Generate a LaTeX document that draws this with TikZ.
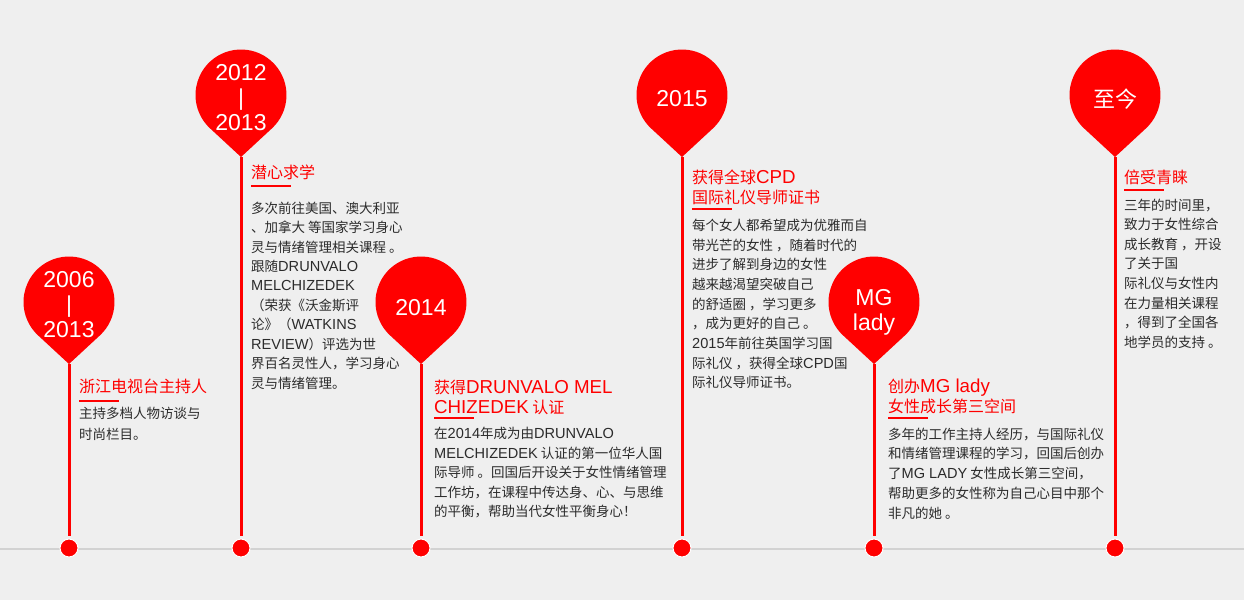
\documentclass[tikz,border=0pt]{standalone}
\usepackage{fontspec}
\setmainfont{Noto Sans CJK SC}
\newfontfamily\numfont{Liberation Sans}
\newfontfamily\latfont[Scale=1.08]{Liberation Sans}
\newfontfamily\latbig[Scale=1.17]{Liberation Sans}
\definecolor{bg}{HTML}{EFEFEF}
\definecolor{ballred}{HTML}{FF0000}
\definecolor{txtgray}{HTML}{2B2B2B}
\definecolor{axisgray}{HTML}{D2D2D2}

\begin{document}
\begin{tikzpicture}[x=1pt,y=-1pt,
    yearlbl/.style={text=white,align=center,inner sep=0pt,
        font=\numfont\fontsize{23}{25}\selectfont},
    ttl/.style={text=ballred,anchor=west,align=left,inner sep=0pt,
        font=\fontsize{16}{20}\selectfont},
    bodytxt/.style={text=txtgray,anchor=west,align=left,inner sep=0pt,
        font=\fontsize{13.5}{19.7}\selectfont},
    uline/.style={draw=ballred,line width=2pt},
    stem/.style={draw=ballred,line width=3pt,shorten >=3pt},
    dotnode/.style={circle,fill=ballred,draw=white,line width=1pt,
        minimum size=18pt,inner sep=0pt},
    balloon/.style={fill=ballred},
    axis/.style={draw=axisgray,line width=2pt}]
    \fill[bg] (0,0) rectangle (1244,600);
    \useasboundingbox (0,0) rectangle (1244,600);
    % ---------- axis ----------
    \draw[axis] (0,549) -- (1244,549);
    % ---------- 2006-2013 ----------
    \coordinate (t1) at (69,364);
    \fill[balloon] (t1) -- ([shift={(47.2:45.5)}]69,302)
        arc[start angle=47.2,end angle=-227.2,radius=45.5] -- cycle;
    \node[yearlbl] (y1) at (69,305) {2006\\|\\2013};
    \node[dotnode] (d1) at (69,548) {};
    \draw[stem] (t1) -- (d1);
    \node[ttl] (ti1) at (79,386) {浙江电视台主持人};
    \draw[uline] (79,401) -- (119,401);
    \node[bodytxt,font=\fontsize{13.5}{21}\selectfont] (tx1) at (79,423.5)
        {主持多档人物访谈与\\时尚栏目。};
    % ---------- 2012-2013 ----------
    \coordinate (t2) at (241,157);
    \fill[balloon] (t2) -- ([shift={(47.2:45.5)}]241,95)
        arc[start angle=47.2,end angle=-227.2,radius=45.5] -- cycle;
    \node[yearlbl] (y2) at (241,98) {2012\\|\\2013};
    \node[dotnode] (d2) at (241,548) {};
    \draw[stem] (t2) -- (d2);
    \node[ttl] (ti2) at (251,172) {潜心求学};
    \draw[uline] (251,186) -- (291,186);
    \node[bodytxt,font=\fontsize{13.5}{19.45}\selectfont] (tx2) at (251,295.5)
        {多次前往美国、澳大利亚\\、加拿大 等国家学习身心\\灵与情绪管理相关课程 。\\
         跟随{\latfont DRUNVALO}\\{\latfont MELCHIZEDEK}\\（荣获《沃金斯评\\论》（{\latfont WATKINS}\\
         {\latfont REVIEW}）评选为世\\界百名灵性人，学习身心\\灵与情绪管理。};
    % ---------- 2014 ----------
    \coordinate (t3) at (421,364);
    \fill[balloon] (t3) -- ([shift={(47.2:45.5)}]421,302)
        arc[start angle=47.2,end angle=-227.2,radius=45.5] -- cycle;
    \node[yearlbl] (y3) at (421,308) {2014};
    \node[dotnode] (d3) at (421,548) {};
    \draw[stem] (t3) -- (d3);
    \node[ttl] (ti3) at (434,397) {获得{\latbig DRUNVALO MEL}\\{\latbig CHIZEDEK} 认证};
    \draw[uline] (434,418) -- (474,418);
    \node[bodytxt,font=\fontsize{13.5}{19.5}\selectfont] (tx3) at (434,473)
        {在{\latfont 2014}年成为由{\latfont DRUNVALO}\\{\latfont MELCHIZEDEK} 认证的第一位华人国\\
         际导师 。回国后开设关于女性情绪管理\\工作坊，在课程中传达身、心、与思维\\
         的平衡，帮助当代女性平衡身心！};
    % ---------- 2015 ----------
    \coordinate (t4) at (682,157);
    \fill[balloon] (t4) -- ([shift={(47.2:45.5)}]682,95)
        arc[start angle=47.2,end angle=-227.2,radius=45.5] -- cycle;
    \node[yearlbl] (y4) at (682,99) {2015};
    \node[dotnode] (d4) at (682,548) {};
    \draw[stem] (t4) -- (d4);
    \node[ttl] (ti4) at (692,187) {获得全球{\latbig CPD}\\国际礼仪导师证书};
    \draw[uline] (692,209) -- (732,209);
    \node[bodytxt] (tx4) at (692,304)
        {每个女人都希望成为优雅而自\\带光芒的女性 ，随着时代的\\进步了解到身边的女性\\
         越来越渴望突破自己\\的舒适圈 ，学习更多\\，成为更好的自己 。\\
         {\latfont 2015}年前往英国学习国\\际礼仪 ，获得全球{\latfont CPD}国\\际礼仪导师证书。};
    % ---------- MG lady ----------
    \coordinate (t5) at (874,364);
    \fill[balloon] (t5) -- ([shift={(47.2:45.5)}]874,302)
        arc[start angle=47.2,end angle=-227.2,radius=45.5] -- cycle;
    \node[yearlbl] (y5) at (874,312) {MG\\lady};
    \node[dotnode] (d5) at (874,548) {};
    \draw[stem] (t5) -- (d5);
    \node[ttl] (ti5) at (888,396.5) {创办{\latbig MG lady}\\女性成长第三空间};
    \draw[uline] (888,418) -- (928,418);
    \node[bodytxt] (tx5) at (888,473.5)
        {多年的工作主持人经历，与国际礼仪\\和情绪管理课程的学习，回国后创办\\
         了{\latfont MG LADY} 女性成长第三空间，\\帮助更多的女性称为自己心目中那个\\非凡的她 。};
    % ---------- 至今 ----------
    \coordinate (t6) at (1115,157);
    \fill[balloon] (t6) -- ([shift={(47.2:45.5)}]1115,95)
        arc[start angle=47.2,end angle=-227.2,radius=45.5] -- cycle;
    \node[yearlbl,font=\fontsize{22}{25}\selectfont] (y6) at (1115,99) {至今};
    \node[dotnode] (d6) at (1115,548) {};
    \draw[stem] (t6) -- (d6);
    \node[ttl] (ti6) at (1124,177) {倍受青睐};
    \draw[uline] (1124,190) -- (1164,190);
    \node[bodytxt,font=\fontsize{13.5}{19.6}\selectfont] (tx6) at (1124,273.5)
        {三年的时间里，\\致力于女性综合\\成长教育 ，开设\\了关于国\\
         际礼仪与女性内\\在力量相关课程\\，得到了全国各\\地学员的支持 。};
\end{tikzpicture}
\end{document}
